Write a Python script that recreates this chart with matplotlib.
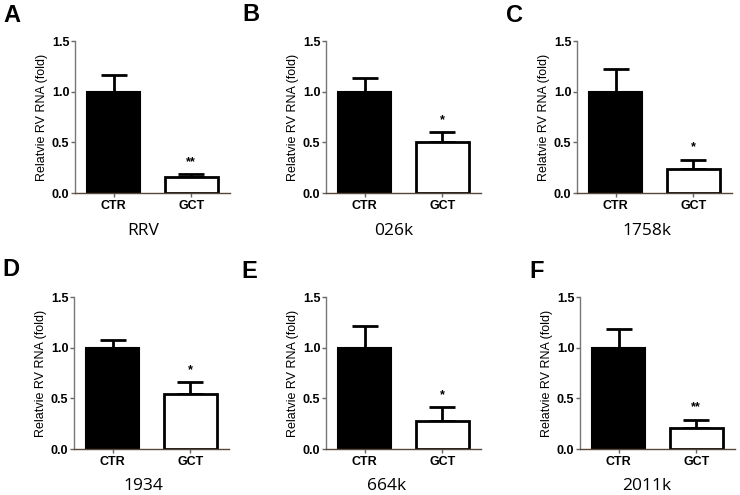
import matplotlib.pyplot as plt

groups = ["CTR", "GCT"]
panels = ["A", "B", "C", "D", "E", "F"]
strains = ["RRV", "026k", "1758k", "1934", "664k", "2011k"]
ctr_mean = [1.0, 1.0, 1.0, 1.0, 1.0, 1.0]
ctr_err = [0.16, 0.13, 0.22, 0.08, 0.21, 0.18]
gct_mean = [0.16, 0.50, 0.24, 0.54, 0.28, 0.21]
gct_err = [0.025, 0.10, 0.09, 0.12, 0.13, 0.08]
signif = ["**", "*", "*", "*", "*", "**"]

W, H = 740, 495
fig = plt.figure(figsize=(W / 100, H / 100), dpi=100)

# pixel layout of each panel: (axis left x, zero-line y)
ax_left = [75, 326, 577, 74, 326, 580]
ax_zero = [193, 193, 193, 449, 449, 449]
letter_xy = [(3, 22), (242, 21), (506, 22), (2, 276), (241, 278), (529, 278)]
title_xy = [(143, 231), (394, 231), (647, 231), (143, 486), (387, 486), (647, 486)]
ax_w, ax_h = 155, 152

for i in range(6):
    x0, y0 = ax_left[i], ax_zero[i]
    ax = fig.add_axes([x0 / W, 1 - y0 / H, ax_w / W, ax_h / H])
    ax.bar([0], [ctr_mean[i]], width=0.68, color="black", edgecolor="black",
           linewidth=1.5, zorder=2)
    ax.bar([1], [gct_mean[i]], width=0.68, color="white", edgecolor="black",
           linewidth=2, zorder=2)
    ax.errorbar([0, 1], [ctr_mean[i], gct_mean[i]],
                yerr=[[0, 0], [ctr_err[i], gct_err[i]]],
                fmt="none", ecolor="black", elinewidth=2, capsize=9.5,
                capthick=2, zorder=1)
    ax.text(1, gct_mean[i] + gct_err[i] + 0.09, signif[i], ha="center",
            va="baseline", fontsize=9, fontweight="bold",
            family="Liberation Sans")
    ax.set_xlim(-0.5, 1.5)
    ax.set_ylim(0, 1.5)
    ax.set_yticks([0, 0.5, 1.0, 1.5])
    ax.set_yticklabels(["0.0", "0.5", "1.0", "1.5"])
    ax.set_xticks([0, 1])
    ax.set_xticklabels(groups)
    for lab in ax.get_xticklabels() + ax.get_yticklabels():
        lab.set_fontweight("bold")
        lab.set_family("Liberation Sans")
        lab.set_fontsize(9)
    ax.tick_params(axis="y", length=3, width=1, color="#666666", pad=1)
    ax.tick_params(axis="x", length=3, width=1, color="#666666", pad=2)
    ax.spines["top"].set_visible(False)
    ax.spines["right"].set_visible(False)
    ax.spines["left"].set_color("#777777")
    ax.spines["bottom"].set_color("#5a4636")
    ax.spines["left"].set_linewidth(1)
    ax.spines["bottom"].set_linewidth(1)
    ax.set_ylabel("Relatvie RV RNA (fold)", fontsize=9,
                  family="Liberation Sans", labelpad=3)

    lx, ly = letter_xy[i]
    fig.text(lx / W, 1 - ly / H, panels[i], fontsize=17, fontweight="bold",
             family="Liberation Sans", ha="left", va="baseline")
    tx, ty = title_xy[i]
    fig.text(tx / W, 1 - ty / H, strains[i], fontsize=12.5,
             family="Open Sans", ha="center", va="center")

fig.savefig("out.png", dpi=100)
